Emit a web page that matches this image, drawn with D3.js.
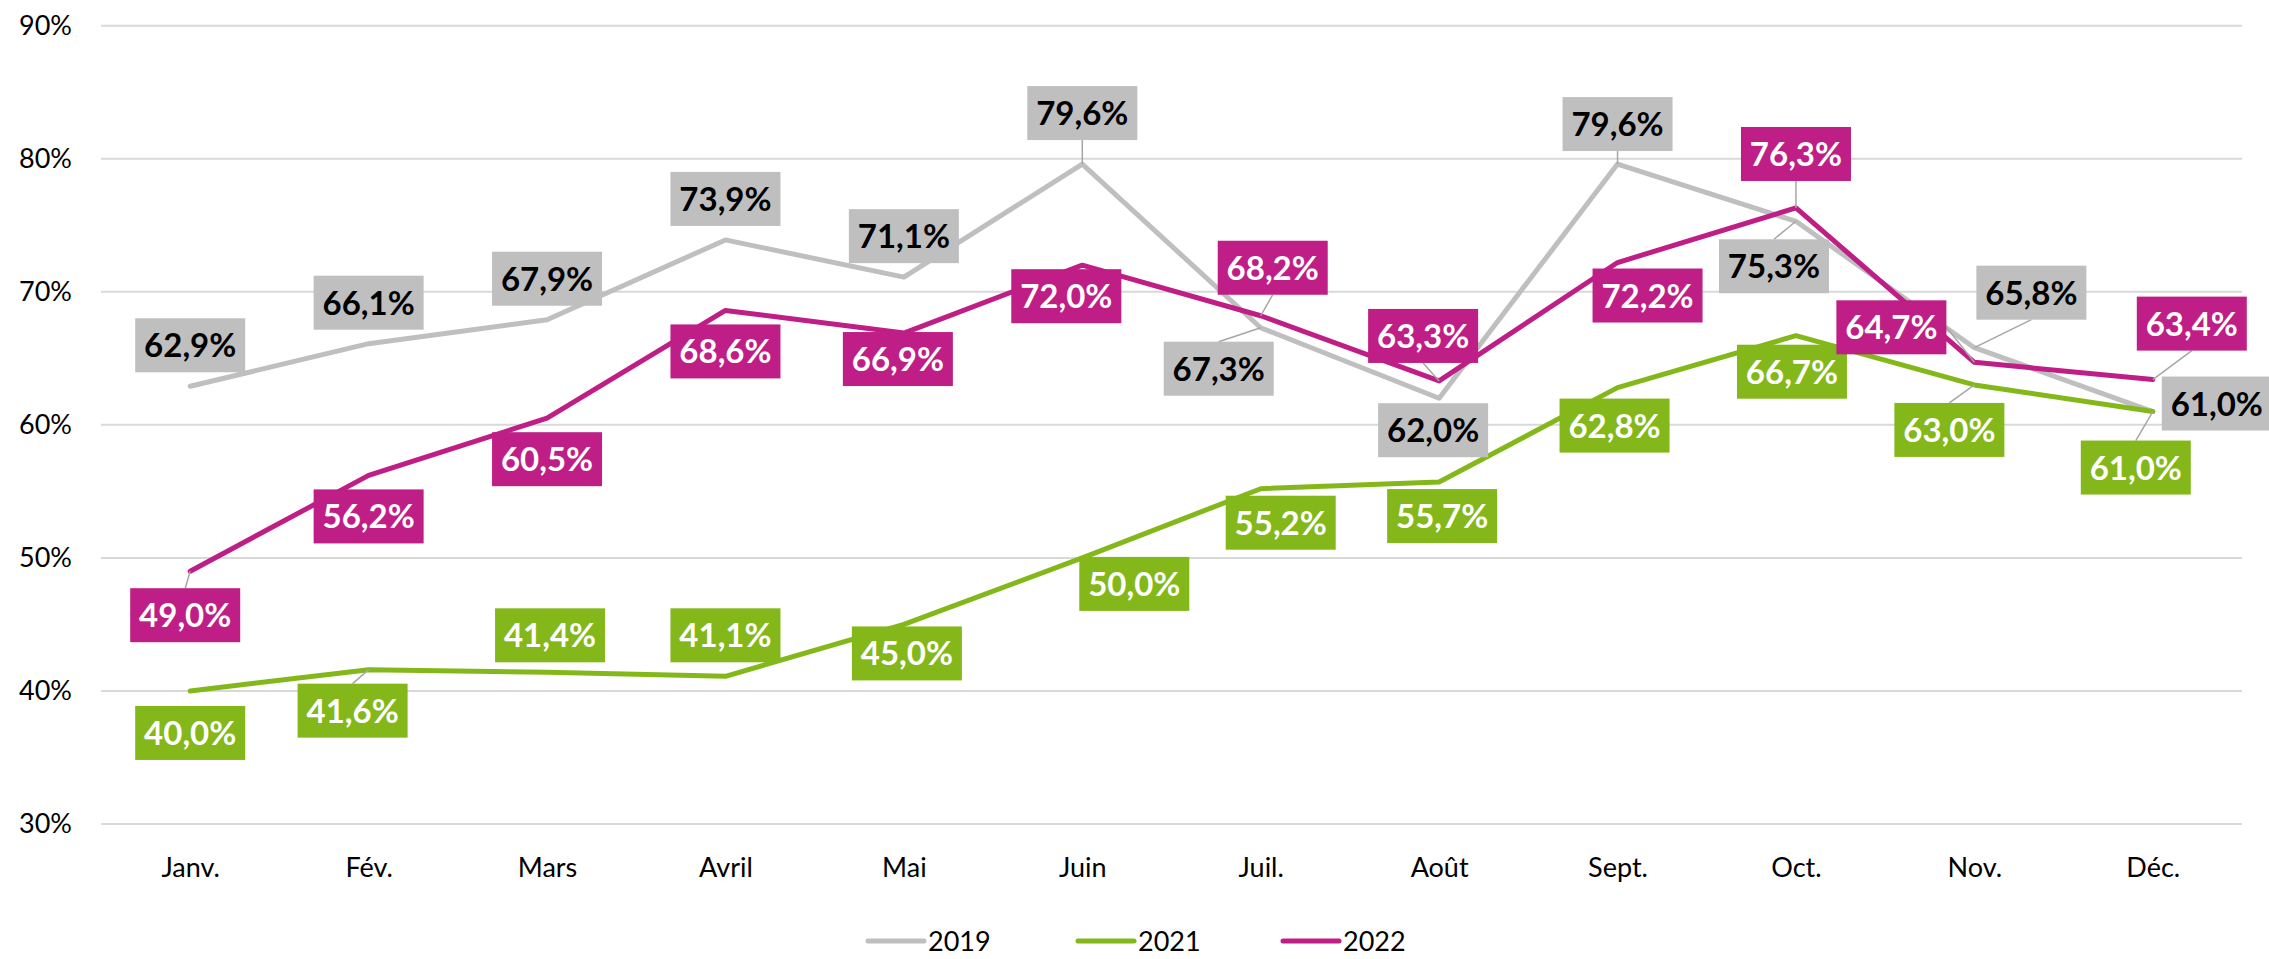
<!DOCTYPE html>
<html>
<head>
<meta charset="utf-8">
<script src="https://cdn.jsdelivr.net/npm/d3@7"></script>
<style>
  body { margin: 0; background: #fff; }
  text { font-family: Lato, "Open Sans", sans-serif; }
</style>
</head>
<body>
<div id="chart"></div>
<script>
// data
var months = ["Janv.", "Fév.", "Mars", "Avril", "Mai", "Juin", "Juil.", "Août", "Sept.", "Oct.", "Nov.", "Déc."];
var years = ["2019", "2021", "2022"];
var values2019 = [62.9, 66.1, 67.9, 73.9, 71.1, 79.6, 67.3, 62.0, 79.6, 75.3, 65.8, 61.0];
var values2021 = [40.0, 41.6, 41.4, 41.1, 45.0, 50.0, 55.2, 55.7, 62.8, 66.7, 63.0, 61.0];
var values2022 = [49.0, 56.2, 60.5, 68.6, 66.9, 72.0, 68.2, 63.3, 72.2, 76.3, 64.7, 63.4];
var yTicks = [30, 40, 50, 60, 70, 80, 90];

// label placement (box centre offset from the point, leader anchor)
var labels2019 = [[0,-41],[0,-41],[0,-41],[0,-41],[0,-41],[0,-51,"bottom"],[-42,41,"top"],[-6,32],[0,-40,"bottom"],[-22,45,"top"],[57,-55,"bottom"],[64,-8]];
var labels2021 = [[0,42],[-16,41,"top"],[3,-37],[0,-41],[3,29],[52,26],[20,34],[3,34],[-3,38],[-4,36],[-25,45,"top"],[-17,56,"top"]];
var labels2022 = [[-5,44,"top"],[0,41],[0,41],[0,41],[-6,26],[-16,31],[12,-48,"bottom"],[-16,-45,"bottom"],[30,33],[0,-54,"bottom"],[-83,-35,"right"],[39,-56,"bottom"]];

var series = [
    { name: years[0], values: values2019, labels: labels2019, color: "#bfbfbf", text: "#000" },
    { name: years[1], values: values2021, labels: labels2021, color: "#84b81a", text: "#fff" },
    { name: years[2], values: values2022, labels: labels2022, color: "#be1e85", text: "#fff" }
];

var width = 2269, height = 959;
var boxW = 110, boxH = 54;

var svg = d3.select("#chart")
    .append("svg")
    .attr("width", width)
    .attr("height", height);

var xScale = d3.scalePoint()
    .domain(months)
    .range([101, 2242])
    .padding(0.5);

var yScale = d3.scaleLinear()
    .domain([30, 90])
    .range([824, 25.7]);

// gridlines
svg.append("g").selectAll("line")
    .data(yTicks)
    .enter()
    .append("line")
    .attr("x1", 101)
    .attr("x2", 2242)
    .attr("y1", d => yScale(d))
    .attr("y2", d => yScale(d))
    .style("stroke", "#d9d9d9")
    .style("stroke-width", 2);

var yAxis = svg.append("g")
    .attr("transform", "translate(72,0)")
    .call(d3.axisLeft(yScale).tickValues(yTicks).tickSize(0).tickPadding(0).tickFormat(d => d + "%"));
yAxis.select(".domain").remove();
yAxis.selectAll("text")
    .style("font-family", "Lato, sans-serif")
    .style("font-size", "27px")
    .attr("fill", "#000");

var xAxis = svg.append("g")
    .attr("transform", "translate(0,858)")
    .call(d3.axisBottom(xScale).tickSize(0).tickPadding(0));
xAxis.select(".domain").remove();
xAxis.selectAll("text")
    .style("font-family", "Lato, sans-serif")
    .style("font-size", "27px")
    .attr("fill", "#000");

var line = d3.line()
    .x((d, i) => xScale(months[i]))
    .y(d => yScale(d));

svg.append("g").selectAll("path")
    .data(series)
    .enter()
    .append("path")
    .attr("d", d => line(d.values))
    .style("fill", "none")
    .style("stroke", d => d.color)
    .style("stroke-width", 5)
    .style("stroke-linejoin", "round")
    .style("stroke-linecap", "round");

// leader lines then label boxes
var leaders = svg.append("g");
var labelLayer = svg.append("g");

series.forEach(function(s) {
    s.values.forEach(function(v, i) {
        var px = xScale(months[i]), py = yScale(v);
        var lab = s.labels[i];
        var cx = px + lab[0], cy = py + lab[1];
        if (lab[2]) {
            var ax = cx, ay = cy;
            if (lab[2] == "top") ay = cy - boxH / 2;
            if (lab[2] == "bottom") ay = cy + boxH / 2;
            if (lab[2] == "right") ax = cx + boxW / 2;
            if (lab[2] == "left") ax = cx - boxW / 2;
            leaders.append("line")
                .attr("x1", ax).attr("y1", ay)
                .attr("x2", px).attr("y2", py)
                .style("stroke", "#a6a6a6")
                .style("stroke-width", 1.5);
        }
        var g = labelLayer.append("g");
        g.append("rect")
            .attr("x", cx - boxW / 2)
            .attr("y", cy - boxH / 2)
            .attr("width", boxW)
            .attr("height", boxH)
            .style("fill", s.color);
        g.append("text")
            .attr("x", cx)
            .attr("y", cy + 12)
            .attr("text-anchor", "middle")
            .style("font-size", "33px")
            .style("font-weight", "bold")
            .style("fill", s.text)
            .text(v.toFixed(1).replace(".", ",") + "%");
    });
});

// legend
var legendX = [868, 1078, 1283];
var legend = svg.append("g").selectAll("g")
    .data(series)
    .enter()
    .append("g")
    .attr("transform", (d, i) => "translate(" + legendX[i] + ",941)");

legend.append("line")
    .attr("x1", 0)
    .attr("x2", 56)
    .style("stroke", d => d.color)
    .style("stroke-width", 5)
    .style("stroke-linecap", "round");

legend.append("text")
    .attr("x", 60)
    .attr("y", 10)
    .style("font-size", "27px")
    .text(d => d.name);
</script>
</body>
</html>
